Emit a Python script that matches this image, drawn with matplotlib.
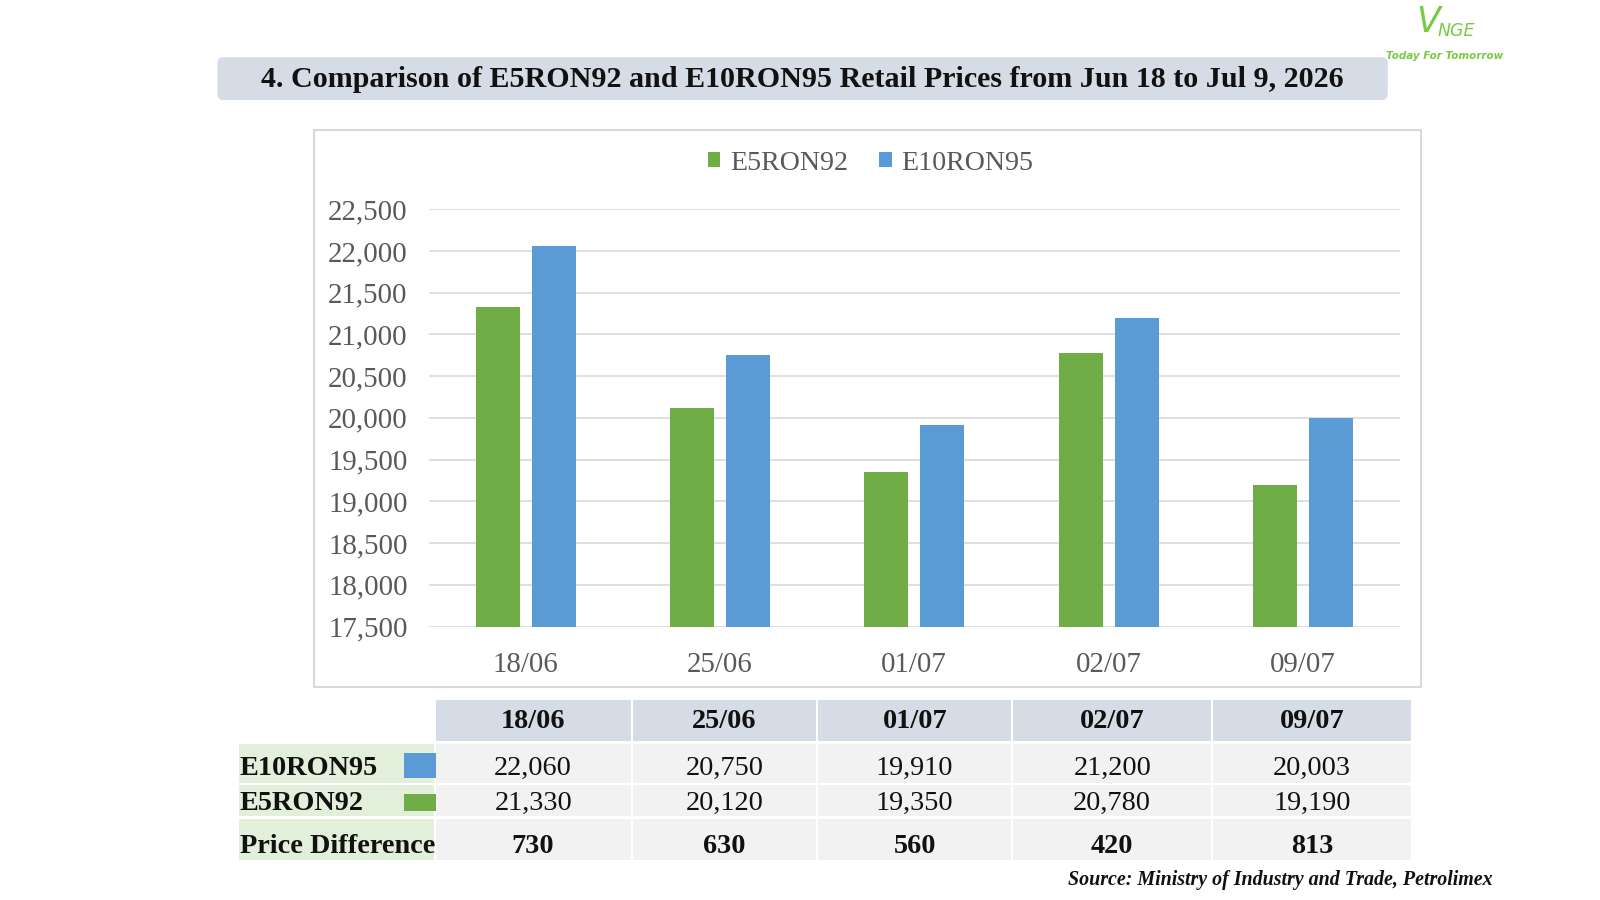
import numpy as np
import matplotlib.pyplot as plt
from matplotlib.patches import Rectangle, FancyBboxPatch

plt.rcParams['font.family'] = ['Liberation Serif', 'DejaVu Serif']

# données
dates = ['18/06', '25/06', '01/07', '02/07', '09/07']
e5ron92 = [21330, 20120, 19350, 20780, 19190]
e10ron95 = [22060, 20750, 19910, 21200, 20003]
price_diff = [730, 630, 560, 420, 813]
yticks = [17500, 18000, 18500, 19000, 19500, 20000, 20500, 21000, 21500, 22000, 22500]

GREEN = '#70AD47'
BLUE = '#5B9BD5'
W, H = 1568, 882   # repère "pixels" de mise en page

fig = plt.figure(figsize=(16, 9), dpi=100)

# fond pour les boites
bg = fig.add_axes([0, 0, 1, 1])
bg.set_xlim(0, W)
bg.set_ylim(H, 0)
bg.axis('off')

# titre
bg.add_patch(FancyBboxPatch((213, 56), 1147, 42, boxstyle='round,pad=0,rounding_size=6',
                            fc='#D6DCE5', ec='none'))
bg.text(786, 78, '4. Comparison of E5RON92 and E10RON95 Retail Prices from Jun 18 to Jul 9, 2026',
        ha='center', va='center', fontsize=21.6, fontweight='bold', color='#111111')

# logo
bg.text(1411, 22, 'V', ha='right', va='center', fontsize=25, style='italic',
        color='#7AC943', family='DejaVu Sans')
bg.text(1409, 30, 'NGE', ha='left', va='center', fontsize=12.5, style='italic',
        color='#7AC943', family='DejaVu Sans')
bg.text(1416, 55, 'Today For Tomorrow', ha='center', va='center', fontsize=7.5,
        style='italic', fontweight='bold', color='#7AC943', family='DejaVu Sans')

# cadre du graphique
bg.add_patch(Rectangle((308, 127), 1085, 546, fc='none', ec='#D9D9D9', lw=1.5))

# graphique
ax = fig.add_axes([420 / W, 1 - 614 / H, 952 / W, (614 - 205) / H])
x = np.arange(len(dates))
bw = 0.226
ax.bar(x - 0.144, e5ron92, bw, color=GREEN, label='E5RON92', zorder=3)
ax.bar(x + 0.144, e10ron95, bw, color=BLUE, label='E10RON95', zorder=3)
ax.set_xlim(-0.5, len(dates) - 0.5)
ax.set_ylim(yticks[0], yticks[-1])
ax.set_yticks(yticks)
ax.set_yticklabels(['{:,}'.format(v) for v in yticks])
ax.set_xticks(x)
ax.set_xticklabels(dates)
ax.grid(axis='y', color='#D9D9D9', lw=1.2, zorder=0)
for s in ax.spines.values():
    s.set_visible(False)
ax.tick_params(length=0, labelsize=20.8, colors='#595959')
ax.tick_params(axis='y', pad=15)
ax.tick_params(axis='x', pad=18)
ax.set_facecolor('none')
ax.legend(loc='center', bbox_to_anchor=(0.455, 1.11), ncol=2, frameon=False,
          fontsize=20.2, labelcolor='#595959', handlelength=0.45, handleheight=0.45,
          handletextpad=0.35, columnspacing=1.1)

# tableau
cols = [(427, 618), (620, 800), (802, 991), (993, 1187), (1189, 1383)]
rows = [(686, 726), (729, 767), (769, 800), (803, 843)]
text_dy = [1, 5, 3, 7]
for i, (x0, x1) in enumerate(cols):
    xc = (x0 + x1) / 2
    y0, y1 = rows[0]
    bg.add_patch(Rectangle((x0, y0), x1 - x0, y1 - y0, fc='#D6DCE5', ec='none'))
    bg.text(xc, (y0 + y1) / 2 + text_dy[0], dates[i], ha='center', va='center',
            fontsize=20.3, fontweight='bold', color='#111111')
    for r, vals, bold in [(1, e10ron95, False), (2, e5ron92, False), (3, price_diff, True)]:
        y0, y1 = rows[r]
        bg.add_patch(Rectangle((x0, y0), x1 - x0, y1 - y0, fc='#F2F2F2', ec='none'))
        bg.text(xc, (y0 + y1) / 2 + text_dy[r], '{:,}'.format(vals[i]), ha='center',
                va='center', fontsize=20.3, fontweight='bold' if bold else 'normal',
                color='#111111')

labels = ['E10RON95', 'E5RON92', 'Price Difference']
swatch = [BLUE, GREEN, None]
for r in range(3):
    y0, y1 = rows[r + 1]
    bg.add_patch(Rectangle((234, y0), 191, y1 - y0, fc='#E2EFDA', ec='none'))
    bg.text(235, (y0 + y1) / 2 + text_dy[r + 1], labels[r], ha='left', va='center',
            fontsize=20.3, fontweight='bold', color='#111111')
    if swatch[r]:
        bg.add_patch(Rectangle((396, y0 + 9), 31, y1 - y0 - 14, fc=swatch[r], ec='none'))

bg.text(1463, 862, 'Source: Ministry of Industry and Trade, Petrolimex', ha='right',
        va='center', fontsize=14.4, fontweight='bold', style='italic', color='#111111')

fig.savefig('out.png', dpi=100)
